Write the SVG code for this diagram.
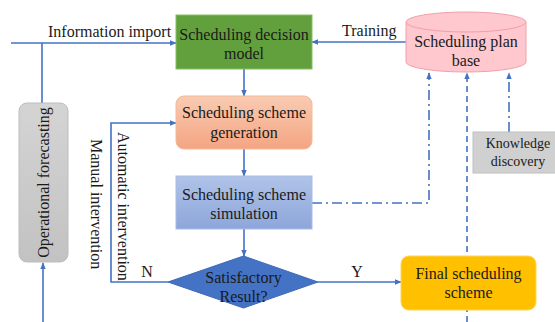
<svg xmlns="http://www.w3.org/2000/svg" width="555" height="322" viewBox="0 0 555 322">
<defs>
<marker id="ah" viewBox="0 0 10 10" refX="9" refY="5" markerWidth="7" markerHeight="7" markerUnits="userSpaceOnUse" orient="auto">
<path d="M0,1 L10,5 L0,9 z" fill="#4472C4"/>
</marker>
<linearGradient id="gOrange" x1="0" y1="0" x2="0" y2="1">
<stop offset="0" stop-color="#F9CBB2"/>
<stop offset="1" stop-color="#F4A582"/>
</linearGradient>
<linearGradient id="gBlue" x1="0" y1="0" x2="0" y2="1">
<stop offset="0" stop-color="#B0C3E8"/>
<stop offset="1" stop-color="#8DA6DA"/>
</linearGradient>
<linearGradient id="gGray" x1="0" y1="0" x2="0" y2="1">
<stop offset="0" stop-color="#D4D4D4"/>
<stop offset="1" stop-color="#C2C2C2"/>
</linearGradient>
</defs>
<style>
text { font-family: "Liberation Serif", "Times New Roman", serif; font-size: 16px; fill: #1a1a1a; }
.c { text-anchor: middle; }
.ln { fill: none; stroke: #4472C4; stroke-width: 1.6; }
.dd { stroke-dasharray: 10 4 2 4; }
.ds { stroke-dasharray: 6 4; }
</style>
<rect width="555" height="322" fill="#ffffff"/>

<g id="connectors">
<path class="ln" d="M11,43 H176" marker-end="url(#ah)"/>
<path class="ln" d="M42,43 V103"/>
<path class="ln" d="M43,322 V263" marker-end="url(#ah)"/>
<path class="ln" d="M406,42 H312" marker-end="url(#ah)"/>
<path class="ln" d="M244,69 V96" marker-end="url(#ah)"/>
<path class="ln" d="M244,149 V176" marker-end="url(#ah)"/>
<path class="ln" d="M244,229 V256" marker-end="url(#ah)"/>
<path class="ln" d="M168,282 H111 V123 H176" marker-end="url(#ah)"/>
<path class="ln" d="M318,282 H401" marker-end="url(#ah)"/>
<path class="ln dd" d="M312,203 H429 V73" marker-end="url(#ah)"/>
<path class="ln ds" d="M467,322 V73" marker-end="url(#ah)"/>
<path class="ln dd" d="M509,132 V73" marker-end="url(#ah)"/>
<text x="48" y="37">Information import</text>
<text x="342" y="36">Training</text>
<text x="147" y="277" class="c">N</text>
<text x="357" y="277" class="c">Y</text>
<text transform="translate(91,139) rotate(90)">Manual intervention</text>
<text transform="translate(118,132) rotate(90)">Automatic intervention</text>
</g>

<g id="node-decision">
<rect x="176" y="15" width="136" height="54" fill="#62A03D" stroke="#86BF63" stroke-width="1"/>
<text x="244" y="40" class="c">Scheduling decision</text>
<text x="244" y="59" class="c">model</text>
</g>

<g id="node-generation">
<rect x="176" y="96" width="136" height="53" rx="8" fill="url(#gOrange)" stroke="#F4B99A" stroke-width="1"/>
<text x="244" y="118" class="c">Scheduling scheme</text>
<text x="244" y="138" class="c">generation</text>
</g>

<g id="node-simulation">
<rect x="176" y="176" width="136" height="53" fill="url(#gBlue)" stroke="#A9BCE4" stroke-width="1"/>
<text x="244" y="200" class="c">Scheduling scheme</text>
<text x="244" y="219" class="c">simulation</text>
</g>

<g id="node-decision-diamond">
<path d="M168,282 L243.5,256 L318,282 L243.5,308 Z" fill="#4472C4" stroke="#3F69B5" stroke-width="1"/>
<text x="243.5" y="283" class="c">Satisfactory</text>
<text x="243.5" y="302" class="c">Result?</text>
</g>

<g id="node-forecasting">
<rect x="19" y="103" width="49" height="159" rx="8" fill="url(#gGray)" stroke="#BDBDBD" stroke-width="1"/>
<text transform="translate(48.5,182.5) rotate(-90)" class="c">Operational forecasting</text>
</g>

<g id="node-planbase">
<path d="M406,22 V62 A60,10 0 0 0 526,62 V22" fill="#FFC7CE" stroke="#F2A0A8" stroke-width="1"/>
<ellipse cx="466" cy="22" rx="60" ry="10" fill="#FFC7CE" stroke="#F2A0A8" stroke-width="1"/>
<text x="466" y="47" class="c">Scheduling plan</text>
<text x="466" y="66" class="c">base</text>
</g>

<g id="node-knowledge">
<rect x="473" y="132" width="84" height="41" fill="#D0D0D0" stroke="#C0C0C0" stroke-width="1"/>
<text x="518" y="148" class="c" style="font-size:14px">Knowledge</text>
<text x="518" y="166" class="c" style="font-size:14px">discovery</text>
</g>

<g id="node-final">
<rect x="401" y="256" width="135" height="54" rx="8" fill="#FFC000" stroke="#FFD35C" stroke-width="1"/>
<text x="468.5" y="279" class="c">Final scheduling</text>
<text x="468.5" y="298" class="c">scheme</text>
</g>
</svg>
